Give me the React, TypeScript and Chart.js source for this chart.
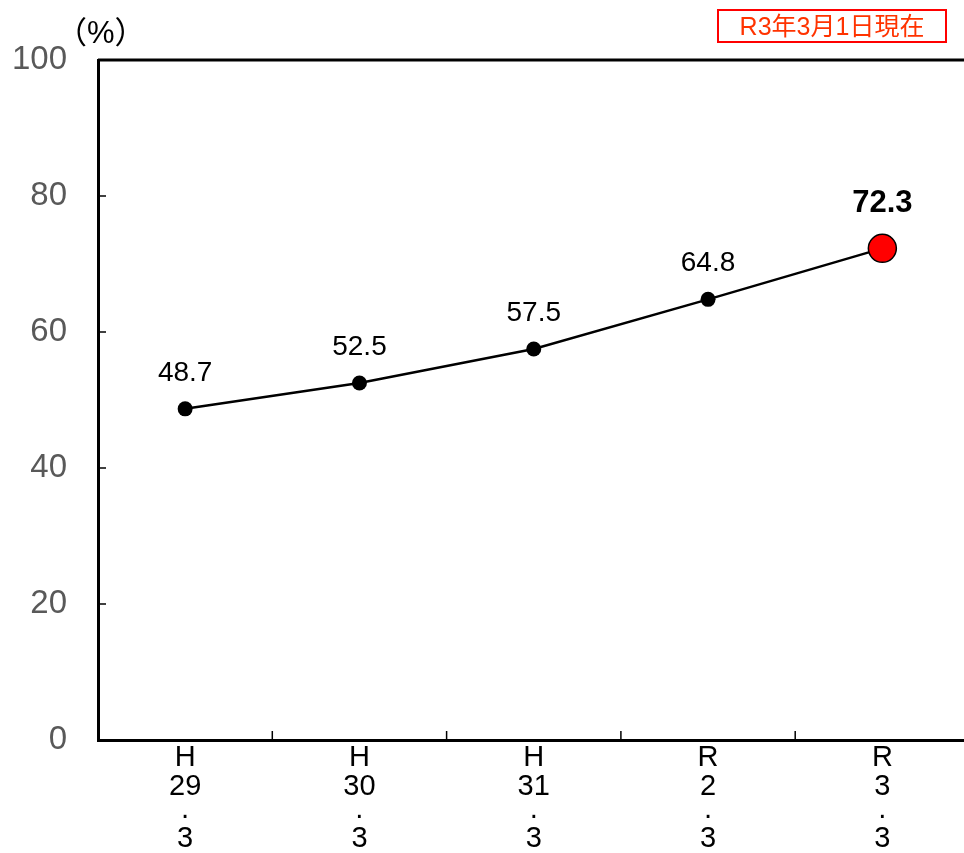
import React, { useEffect, useRef } from "react";
import { Chart, registerables } from "chart.js";

Chart.register(...registerables);

const categories: string[][] = [
  ["H", "29", "·", "3"],
  ["H", "30", "·", "3"],
  ["H", "31", "·", "3"],
  ["R", "2", "·", "3"],
  ["R", "3", "·", "3"],
];
const values: number[] = [48.7, 52.5, 57.5, 64.8, 72.3];
const yTickValues: number[] = [0, 20, 40, 60, 80, 100];
const unitLabel = "（%）";
const noteLabel = "R3年3月1日現在";

const FONT = '"Liberation Sans", Arial, sans-serif';
const LINE_OFFSETS = [18, 47, 76, 99];

const extrasPlugin = {
  id: "extras",
  afterDatasetsDraw(chart: any) {
    const { ctx, chartArea } = chart;
    const xs = chart.scales.x;
    const ys = chart.scales.y;
    ctx.save();
    ctx.strokeStyle = "#000";
    // top border and right border
    ctx.lineWidth = 3;
    ctx.beginPath();
    ctx.moveTo(chartArea.left, chartArea.top);
    ctx.lineTo(chartArea.right, chartArea.top);
    ctx.lineTo(chartArea.right, chartArea.bottom);
    ctx.stroke();
    // inner y ticks
    ctx.lineWidth = 1.5;
    yTickValues.forEach((v) => {
      const y = ys.getPixelForValue(v);
      ctx.beginPath();
      ctx.moveTo(chartArea.left, y);
      ctx.lineTo(chartArea.left + 8, y);
      ctx.stroke();
    });
    // inner x ticks at category boundaries
    for (let i = 1; i < categories.length; i++) {
      const x = (xs.getPixelForValue(i - 1) + xs.getPixelForValue(i)) / 2;
      ctx.beginPath();
      ctx.moveTo(x, chartArea.bottom);
      ctx.lineTo(x, chartArea.bottom - 9);
      ctx.stroke();
    }
    // category labels (stacked vertically)
    ctx.fillStyle = "#000";
    ctx.textAlign = "center";
    ctx.textBaseline = "middle";
    ctx.font = `29px ${FONT}`;
    categories.forEach((lines, i) => {
      const x = xs.getPixelForValue(i);
      lines.forEach((t, j) => {
        ctx.fillText(t, x, chartArea.bottom + LINE_OFFSETS[j]);
      });
    });
    // data labels
    const meta = chart.getDatasetMeta(0);
    meta.data.forEach((pt: any, i: number) => {
      const last = i === values.length - 1;
      ctx.font = last ? `bold 31px ${FONT}` : `28px ${FONT}`;
      ctx.fillText(values[i].toFixed(1), pt.x, pt.y - (last ? 45 : 36));
    });
    ctx.restore();
  },
};

export default function App() {
  const ref = useRef<HTMLCanvasElement | null>(null);
  useEffect(() => {
    if (!ref.current) return;
    const n = values.length;
    const chart = new Chart(ref.current, {
      type: "line",
      data: {
        labels: categories,
        datasets: [
          {
            data: values,
            borderColor: "#000",
            borderWidth: 2.5,
            tension: 0,
            pointRadius: values.map((_, i) => (i === n - 1 ? 14 : 7.5)),
            pointBackgroundColor: values.map((_, i) => (i === n - 1 ? "#FF0000" : "#000")),
            pointBorderColor: "#000",
            pointBorderWidth: values.map((_, i) => (i === n - 1 ? 1.5 : 0)),
          },
        ],
      },
      options: {
        responsive: false,
        animation: false,
        events: [],
        layout: { padding: { top: 60, right: 15, left: 0, bottom: 0 } },
        plugins: { legend: { display: false }, tooltip: { enabled: false } },
        scales: {
          x: {
            type: "category",
            offset: true,
            grid: { display: false, drawTicks: false },
            border: { display: true, color: "#000", width: 3 },
            ticks: { display: false },
            afterFit: (s: any) => {
              s.height = 113;
            },
          },
          y: {
            min: 0,
            max: 100,
            ticks: {
              stepSize: 20,
              color: "#595959",
              font: { family: FONT, size: 33 },
              padding: 31,
            },
            grid: { display: false, drawTicks: false },
            border: { display: true, color: "#000", width: 3 },
            afterFit: (s: any) => {
              s.width = 98;
            },
          },
        },
      },
      plugins: [extrasPlugin],
    });
    return () => chart.destroy();
  }, []);

  return (
    <div
      style={{
        position: "fixed",
        left: 0,
        top: 0,
        width: 964,
        height: 853,
        overflow: "hidden",
        background: "#fff",
      }}
    >
      <canvas
        ref={ref}
        width={985}
        height={853}
        style={{ position: "absolute", left: 0, top: 0, width: 985, height: 853 }}
      />
      <div
        style={{
          position: "absolute",
          left: 56,
          top: 13,
          fontFamily: `${FONT}, "Noto Sans CJK JP"`,
          fontSize: 31,
          lineHeight: "40px",
          color: "#000",
          whiteSpace: "nowrap",
        }}
      >
        {unitLabel}
      </div>
      <div
        style={{
          position: "absolute",
          left: 717,
          top: 9,
          width: 230,
          height: 34,
          boxSizing: "border-box",
          border: "2px solid #FF0000",
          color: "#FF3300",
          fontFamily: `${FONT}, "Noto Sans CJK JP"`,
          fontSize: 25,
          lineHeight: "30px",
          textAlign: "center",
          whiteSpace: "nowrap",
        }}
      >
        {noteLabel}
      </div>
    </div>
  );
}
